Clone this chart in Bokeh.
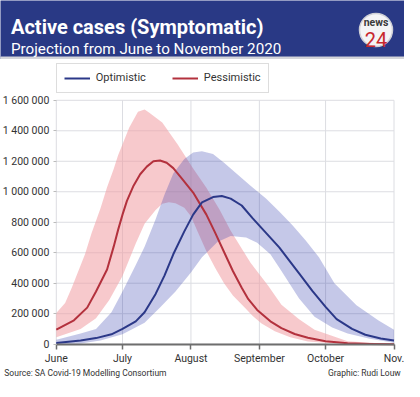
from bokeh.plotting import figure
from bokeh.models import Range1d, FixedTicker, Legend, Label
from bokeh.layouts import column
from bokeh.core.properties import value
from bokeh.embed import file_html
from bokeh.resources import INLINE

# ---------------- data (x = days since 1 June 2020) ----------------
month_days = [0, 30, 61, 92, 122, 153]
month_labels = ["June", "July", "August", "September", "October", "Nov."]

y_ticks = [0, 200000, 400000, 600000, 800000, 1000000, 1200000, 1400000, 1600000]
y_labels = ["0", "200 000", "400 000", "600 000", "800 000", "1 000 000",
            "1 200 000", "1 400 000", "1 600 000"]

# Pessimistic scenario
pess_mid_x = [0, 8, 14, 18, 23, 26, 28, 30, 32, 35, 38, 41, 44, 47, 50, 53, 57, 62,
              68, 72, 76, 80, 84, 87, 91, 97, 102, 108, 114, 122, 132, 142, 153]
pess_mid = [95000, 157000, 240000, 346000, 490000, 640000, 750000, 850000, 940000,
            1040000, 1115000, 1165000, 1200000, 1205000, 1190000, 1155000, 1085000,
            995000, 850000, 730000, 605000, 480000, 370000, 295000, 225000, 150000,
            105000, 67000, 42000, 19000, 7000, 2000, 0]
pess_hi_x = [0, 4, 7, 13, 16, 20, 23, 26, 28, 33, 37, 40, 42, 48, 55, 62, 68, 74, 79,
             88, 96, 102, 110, 117, 132, 153]
pess_hi = [205000, 270000, 370000, 590000, 730000, 890000, 1030000, 1150000, 1240000,
           1420000, 1525000, 1540000, 1520000, 1455000, 1310000, 1153000, 1027000,
           882000, 745000, 535000, 384000, 258000, 164000, 94000, 19000, 0]
pess_lo_x = [0, 5, 11, 18, 24, 30, 36, 40, 45, 48, 51, 54, 58, 61, 64, 68, 72, 76, 80,
             85, 89, 93, 99, 106, 114, 125, 138, 153]
pess_lo = [45000, 70000, 100000, 170000, 290000, 447000, 660000, 790000, 880000,
           922000, 932000, 925000, 895000, 840000, 740000, 610000, 500000, 400000,
           320000, 245000, 185000, 135000, 85000, 45000, 18000, 6000, 1000, 0]

# Optimistic scenario
opt_mid_x = [0, 11, 18, 25, 30, 36, 40, 45, 49, 53, 58, 62, 66, 71, 75, 79, 84, 89, 95,
             101, 106, 110, 116, 122, 127, 134, 140, 147, 153]
opt_mid = [8000, 25000, 40000, 65000, 100000, 150000, 210000, 330000, 450000, 590000,
           740000, 850000, 930000, 965000, 972000, 955000, 910000, 825000, 730000,
           635000, 540000, 465000, 350000, 245000, 165000, 100000, 62000, 38000, 25000]
opt_hi_x = [0, 11, 18, 25, 30, 36, 40, 45, 49, 53, 58, 62, 66, 71, 76, 82, 88, 95, 101,
            107, 113, 119, 126, 136, 146, 153]
opt_hi = [30000, 70000, 100000, 210000, 346000, 520000, 640000, 820000, 980000,
          1120000, 1215000, 1258000, 1266000, 1248000, 1190000, 1115000, 1040000,
          955000, 870000, 780000, 680000, 570000, 400000, 255000, 155000, 95000]
opt_lo_x = [0, 11, 20, 30, 40, 47, 54, 61, 66, 73, 79, 86, 91, 97, 102, 110, 117, 125,
            132, 142, 153]
opt_lo = [0, 5000, 25000, 65000, 140000, 240000, 346000, 470000, 570000, 670000,
          710000, 700000, 665000, 590000, 480000, 300000, 180000, 110000, 70000,
          35000, 10000]

FONT = "Roboto"
W = 404
HDR_H = 59
FIG_H = 322

# ---------------- header ----------------
hdr = figure(width=W, height=HDR_H, x_range=Range1d(0, W), y_range=Range1d(HDR_H, 0),
             x_axis_type=None, y_axis_type=None, toolbar_location=None,
             output_backend="svg", min_border=0, outline_line_color=None,
             background_fill_color="#293985", border_fill_color="#293985")
hdr.grid.visible = False
hdr.quad(left=[0], right=[W], top=[56.5], bottom=[HDR_H], color="#d4d5da")
hdr.text(x=[10.5], y=[26.5], text=["Active cases (Symptomatic)"],
         text_font=value(FONT), text_font_style="bold", text_font_size="20px",
         text_color="white", text_baseline="alphabetic")
hdr.text(x=[10.5], y=[48.5], text=["Projection from June to November 2020"],
         text_font=value(FONT), text_font_size="15.2px",
         text_color="white", text_baseline="alphabetic")
hdr.circle(x=[375.5], y=[29.5], radius=16.5, fill_color="#f4f4f6",
           line_color="#cfd0d6", line_width=1.5)
hdr.text(x=[375.5], y=[21.5], text=["news"], text_font=value(FONT),
         text_font_style="bold", text_font_size="10.5px", text_color="#3a3a3a",
         text_align="center", text_baseline="middle")
hdr.text(x=[375.5], y=[38.5], text=["24"], text_font=value(FONT),
         text_font_size="20px", text_color="#c8282e",
         text_align="center", text_baseline="middle")

# ---------------- main chart ----------------
# plot-area edges in canvas pixels (left, right, top, bottom)
CH_L, CH_R, CH_T, CH_B = 55.8, 393.5, 40.8, 284.7
X_MAX = month_days[-1]
Y_MAX = y_ticks[-1]
xpp = X_MAX / (CH_R - CH_L)
ypp = Y_MAX / (CH_B - CH_T)
x_range = Range1d(-CH_L * xpp, X_MAX + (W - CH_R) * xpp)
y_range = Range1d(-(FIG_H - CH_B) * ypp, Y_MAX + CH_T * ypp)

p = figure(width=W, height=FIG_H, x_range=x_range, y_range=y_range,
           toolbar_location=None, output_backend="svg", min_border=0,
           outline_line_color=None)
p.grid.visible = False

# grid lines drawn from the tick arrays
p.segment(x0=month_days, y0=[0] * len(month_days), x1=month_days,
          y1=[Y_MAX] * len(month_days), line_color="#dcdde2", line_width=1)
p.segment(x0=[0] * len(y_ticks), y0=y_ticks, x1=[X_MAX] * len(y_ticks), y1=y_ticks,
          line_color="#dcdde2", line_width=1)

def band(xs_hi, ys_hi, xs_lo, ys_lo):
    return list(xs_hi) + list(reversed(xs_lo)), list(ys_hi) + list(reversed(ys_lo))

bx, by = band(pess_hi_x, pess_hi, pess_lo_x, pess_lo)
p.patch(bx, by, fill_color="#f19ca3", fill_alpha=0.55, line_alpha=0)
bx, by = band(opt_hi_x, opt_hi, opt_lo_x, opt_lo)
p.patch(bx, by, fill_color="#2934aa", fill_alpha=0.27, line_alpha=0)

rl = p.line(pess_mid_x, pess_mid, line_color="#b3313d", line_width=2,
            line_join="round")
bl = p.line(opt_mid_x, opt_mid, line_color="#2b3888", line_width=2,
            line_join="round")

p.xaxis.fixed_location = 0
p.yaxis.fixed_location = 0
p.xaxis.bounds = (0, X_MAX)
p.yaxis.bounds = (0, Y_MAX)
p.xaxis.ticker = FixedTicker(ticks=month_days)
p.xaxis.major_label_overrides = dict(zip(month_days, month_labels))
p.yaxis.ticker = FixedTicker(ticks=y_ticks)
p.yaxis.major_label_overrides = dict(zip(y_ticks, y_labels))
p.xaxis.minor_tick_line_color = None
p.yaxis.minor_tick_line_color = None

for ax in (p.xaxis, p.yaxis):
    ax.major_label_text_font = FONT
    ax.major_label_text_font_size = "10.5px"
    ax.major_label_text_color = "#333333"

p.xaxis.axis_line_color = "#6e6e6e"
p.xaxis.axis_line_width = 2
p.xaxis.major_tick_line_color = "#6e6e6e"
p.xaxis.major_tick_line_width = 1.5
p.xaxis.major_tick_out = 5
p.xaxis.major_tick_in = 0
p.xaxis.major_label_standoff = 3

p.yaxis.axis_line_color = None
p.yaxis.major_tick_line_color = "#bbbbbb"
p.yaxis.major_tick_out = 3
p.yaxis.major_tick_in = 0
p.yaxis.major_label_standoff = 4

legend = Legend(items=[("Optimistic", [bl]), ("Pessimistic", [rl])],
                orientation="horizontal", location=(CH_L, FIG_H - 33.5),
                spacing=26, padding=7, margin=0, glyph_width=26, glyph_height=14,
                label_standoff=6, label_height=14,
                label_text_font=FONT, label_text_font_size="11px",
                label_text_color="#333333", border_line_color="#bbbbbb",
                border_line_width=1, background_fill_color="white",
                background_fill_alpha=1)
p.add_layout(legend, "center")

p.add_layout(Label(x=3.8, y=8.5, x_units="screen", y_units="screen",
                   text="Source: SA Covid-19 Modelling Consortium",
                   text_font=FONT, text_font_size="8.5px", text_color="#333333",
                   text_baseline="middle"))
p.add_layout(Label(x=400.2, y=8.5, x_units="screen", y_units="screen",
                   text="Graphic: Rudi Louw", text_align="right",
                   text_font=FONT, text_font_size="8.5px", text_color="#333333",
                   text_baseline="middle"))

layout = column(hdr, p, spacing=0)
open("out.html", "w").write(file_html(layout, INLINE))
